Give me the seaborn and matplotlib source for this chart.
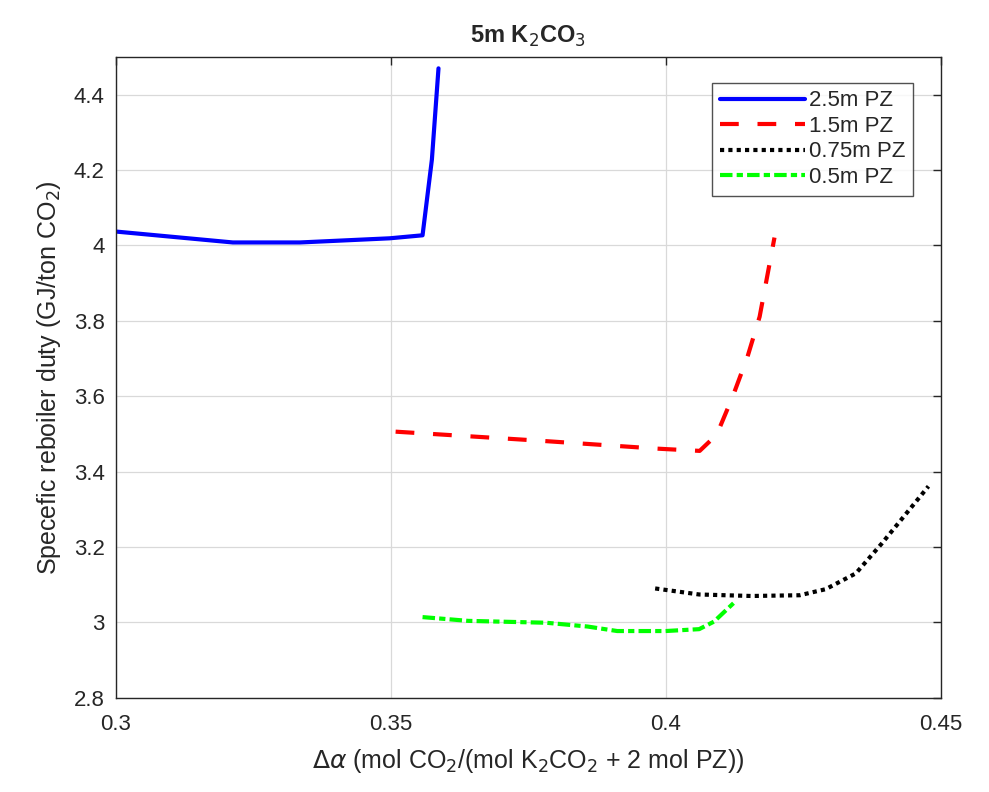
import pandas as pd
import matplotlib
matplotlib.use("Agg")
import matplotlib.pyplot as plt
import seaborn as sns

# Data
pz_labels = ["2.5m PZ", "1.5m PZ", "0.75m PZ", "0.5m PZ"]

x_25 = [0.3000, 0.3213, 0.3335, 0.3498, 0.3558, 0.3575, 0.3587]
y_25 = [4.037, 4.008, 4.008, 4.019, 4.027, 4.228, 4.470]

x_15 = [0.3509, 0.3771, 0.3984, 0.4062, 0.4093, 0.4122, 0.4149, 0.4171, 0.4198]
y_15 = [3.506, 3.482, 3.461, 3.455, 3.498, 3.599, 3.705, 3.811, 4.021]

x_075 = [0.3981, 0.4061, 0.4156, 0.4244, 0.4291, 0.4346, 0.4393, 0.4440, 0.4478]
y_075 = [3.090, 3.074, 3.070, 3.072, 3.088, 3.130, 3.209, 3.293, 3.361]

x_05 = [0.3558, 0.3641, 0.3783, 0.3858, 0.3912, 0.4000, 0.4061, 0.4088, 0.4125]
y_05 = [3.014, 3.004, 2.999, 2.989, 2.977, 2.977, 2.982, 3.002, 3.053]

x_ticks = [0.3, 0.35, 0.4, 0.45]
x_tick_labels = ["0.3", "0.35", "0.4", "0.45"]
y_ticks = [2.8, 3.0, 3.2, 3.4, 3.6, 3.8, 4.0, 4.2, 4.4]
y_tick_labels = ["2.8", "3", "3.2", "3.4", "3.6", "3.8", "4", "4.2", "4.4"]

frames = []
for lab, xs, ys in zip(pz_labels, [x_25, x_15, x_075, x_05], [y_25, y_15, y_075, y_05]):
    frames.append(pd.DataFrame({"x": xs, "y": ys, "series": lab}))
df = pd.concat(frames, ignore_index=True)

colors = {"2.5m PZ": "#0000ff", "1.5m PZ": "#ff0000", "0.75m PZ": "#000000", "0.5m PZ": "#00ff00"}
dash_map = {"2.5m PZ": "", "1.5m PZ": (4.5, 4.5), "0.75m PZ": (1, 1), "0.5m PZ": (3, 1, 1.5, 1)}

sns.set_style("white")
plt.rcParams['font.family'] = ['Liberation Sans', 'DejaVu Sans']

fig, ax = plt.subplots(figsize=(9.89, 7.92), dpi=100)
fig.subplots_adjust(left=0.117, right=0.951, bottom=0.119, top=0.928)

sns.lineplot(data=df, x="x", y="y", hue="series", style="series",
             palette=colors, dashes=dash_map, hue_order=pz_labels, style_order=pz_labels,
             sort=False, estimator=None, linewidth=3, ax=ax)

ax.set_xlim(0.3, 0.45)
ax.set_ylim(2.8, 4.5)
ax.set_xticks(x_ticks)
ax.set_xticklabels(x_tick_labels)
ax.set_yticks(y_ticks)
ax.set_yticklabels(y_tick_labels)
ax.grid(True, color="#d9d9d9", linewidth=0.9)
ax.set_axisbelow(True)
ax.tick_params(direction="in", length=6, width=1, top=True, right=True,
               labelsize=16, colors="#262626")
ax.tick_params(axis="x", pad=12)
ax.tick_params(axis="y", pad=8)
for sp in ax.spines.values():
    sp.set_color("#262626")
    sp.set_linewidth(1)

ax.set_title("5m K$_2$CO$_3$", fontsize=17, fontweight="bold", pad=10)
ax.set_xlabel(r"$\Delta\alpha$ (mol CO$_2$/(mol K$_2$CO$_2$ + 2 mol PZ))", fontsize=18,
              color="#262626", labelpad=8)
ax.set_ylabel("Specefic reboiler duty (GJ/ton CO$_2$)", fontsize=18, color="#262626", labelpad=8)

leg = ax.legend(loc="upper right", bbox_to_anchor=(0.967, 0.96), fontsize=16, frameon=True,
                fancybox=False, edgecolor="#262626", handlelength=3.8, borderpad=0.35,
                labelspacing=0.2, handletextpad=0.2, borderaxespad=0)
leg.get_frame().set_linewidth(1)

fig.savefig("out.png", dpi=100)
